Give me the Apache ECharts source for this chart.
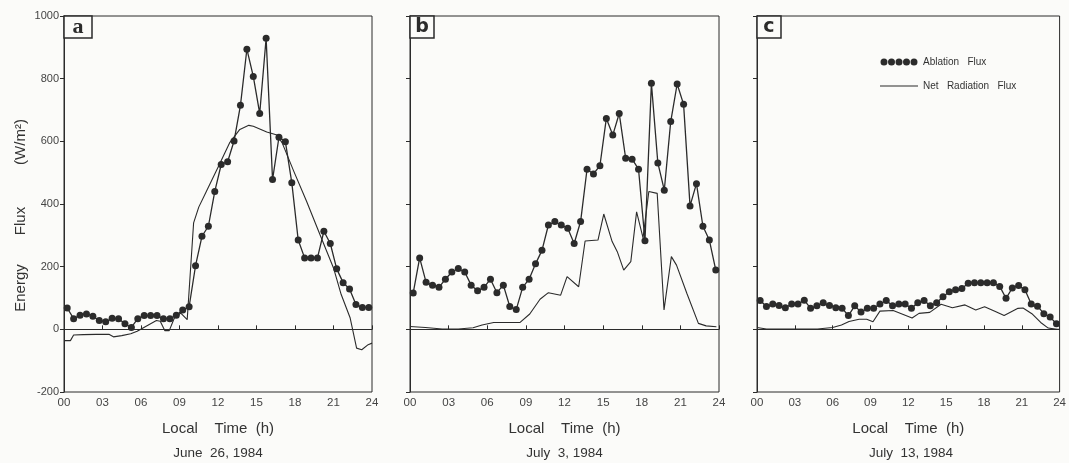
<!DOCTYPE html>
<html>
<head>
<meta charset="utf-8">
<script src="https://cdn.jsdelivr.net/npm/echarts@6/dist/echarts.min.js"></script>
<style>html,body{margin:0;padding:0;background:#fbfbf9;}#c{width:1069px;height:463px;}</style>
</head>
<body>
<div id="c"></div>
<script>
// ---- data ----
const hoursAbl = [0.25,0.75,1.25,1.75,2.25,2.75,3.25,3.75,4.25,4.75,5.25,5.75,6.25,6.75,7.25,7.75,8.25,8.75,9.25,9.75,10.25,10.75,11.25,11.75,12.25,12.75,13.25,13.75,14.25,14.75,15.25,15.75,16.25,16.75,17.25,17.75,18.25,18.75,19.25,19.75,20.25,20.75,21.25,21.75,22.25,22.75,23.25,23.75];
const xTicks = ['00','03','06','09','12','15','18','21','24'];
const panelLetters = ['a','b','c'];
const dates = ['June  26, 1984','July  3, 1984','July  13, 1984'];

const ablationA = [68,34,45,49,42,28,24,35,34,18,6,34,44,44,44,34,34,45,62,72,203,297,329,440,526,535,601,715,894,807,689,929,478,613,599,468,285,228,228,228,313,274,193,149,129,79,70,70];
const ablationB = [116,228,150,141,134,160,183,194,183,141,123,134,160,117,141,73,63,134,160,209,252,333,344,333,323,274,344,511,496,522,673,620,689,546,543,511,283,785,531,444,663,783,718,394,465,329,285,189];
const ablationC = [92,73,81,76,69,81,81,93,67,75,85,76,69,67,44,75,55,67,67,81,92,75,81,81,67,85,92,75,85,104,120,126,130,147,149,149,149,149,137,99,132,140,126,81,74,50,39,18];

const netTimeA = [0,0.5,0.75,1.5,2.5,3.5,3.85,4.5,5.2,5.7,6.4,7.2,7.5,7.85,8.2,8.6,9.1,9.6,10.1,10.5,11.1,12.05,12.9,13.7,14.4,14.75,15.8,16.6,17.0,17.9,18.9,19.95,21.0,21.6,22.3,22.8,23.2,23.7,24];
const netA = [-36,-36,-18,-17,-16,-16,-24,-20,-14,-6,10,28,26,-4,-4,36,52,31,340,390,441,521,595,638,651,648,630,620,595,505,409,302,196,111,36,-60,-65,-49,-44];
const netTimeB = [0,1.2,2.5,3.75,4.9,5.6,6.5,8.55,9.3,10.1,10.75,11.7,12.2,13.1,13.6,14.6,15.05,15.7,16.1,16.6,17.15,17.6,18.1,18.55,19.2,19.73,20.3,20.7,21.5,22.4,23.0,23.8];
const netB = [9,6,1,1,5,14,22,22,49,96,117,109,168,136,282,285,368,280,248,189,216,375,292,440,434,62,232,205,115,19,11,8];
const netTimeC = [0,0.75,4.8,6.0,6.7,7.3,8.1,8.7,9.2,9.75,10.8,11.55,12.3,12.85,13.7,14.6,15.5,16.5,17.35,18.05,18.95,19.6,20.7,21.1,21.8,22.5,23.1,23.8,24];
const netC = [6,1,1,6,14,25,32,32,24,58,60,48,36,51,54,80,69,78,62,72,56,44,67,68,50,22,4,0,0];

// ---- build chart ----
const ablations = [ablationA, ablationB, ablationC];
const netTimes = [netTimeA, netTimeB, netTimeC];
const nets = [netA, netB, netC];
const grids = [
  {left:64, top:16, width:308, height:376},
  {left:410, top:16, width:309, height:376},
  {left:757, top:16, width:308, height:376}
];
const ink = '#2b2b2b';
const sans = '"Liberation Sans", Arial, sans-serif';

const option = {
  backgroundColor: '#fbfbf9',
  animation: false,
  grid: grids.map(g => Object.assign({show:true, borderColor:ink, borderWidth:1, backgroundColor:'transparent'}, g)),
  xAxis: grids.map((g, i) => ({
    type:'value', gridIndex:i, min:0, max:24, interval:3,
    axisLine:{show:true, lineStyle:{color:ink, width:1}},
    axisTick:{show:true, inside:true, length:4, lineStyle:{color:ink}},
    splitLine:{show:false},
    axisLabel:{show:true, margin:5, fontSize:11.5, color:'#444', fontFamily:sans,
      formatter: v => xTicks[Math.round(v/3)], showMinLabel:true, showMaxLabel:true},
    name:'Local    Time  (h)', nameLocation:'middle', nameGap:29,
    nameTextStyle:{fontSize:15, color:'#333', fontFamily:sans}
  })),
  yAxis: grids.map((g, i) => ({
    type:'value', gridIndex:i, min:-200, max:1000, interval:200,
    axisLine:{show:true, lineStyle:{color:ink, width:1}},
    axisTick:{show:true, inside:false, length:4, lineStyle:{color:ink}},
    splitLine:{show:false},
    axisLabel:{show:i===0, margin:5, fontSize:11, color:'#444', fontFamily:sans,
      formatter: v => String(v)}
  })),
  legend: {
    left:880, top:57, orient:'vertical', itemGap:14, itemWidth:38, itemHeight:7, padding:0,
    textStyle:{fontSize:10, color:'#333', fontFamily:sans},
    formatter: n => n === 'Ablation Flux' ? 'Ablation   Flux' : 'Net   Radiation   Flux',
    data:[
      {name:'Ablation Flux', icon:'path://M0,3.5A3.5,3.5 0 1,1 7,3.5A3.5,3.5 0 1,1 0,3.5Z M7.5,3.5A3.5,3.5 0 1,1 14.5,3.5A3.5,3.5 0 1,1 7.5,3.5Z M15,3.5A3.5,3.5 0 1,1 22,3.5A3.5,3.5 0 1,1 15,3.5Z M22.5,3.5A3.5,3.5 0 1,1 29.5,3.5A3.5,3.5 0 1,1 22.5,3.5Z M30,3.5A3.5,3.5 0 1,1 37,3.5A3.5,3.5 0 1,1 30,3.5Z'},
      {name:'Net Radiation Flux', icon:'path://M0,3L38,3L38,4L0,4Z M0,0L0.01,0L0,0.01Z M38,7L37.99,7L38,6.99Z'}
    ]
  },
  series: [],
  graphic: []
};

for (let i = 0; i < 3; i++) {
  option.series.push({
    name:'Net Radiation Flux', type:'line', xAxisIndex:i, yAxisIndex:i,
    data: netTimes[i].map((t, k) => [t, nets[i][k]]),
    showSymbol:false, symbol:'none',
    lineStyle:{color:ink, width:1.1}, itemStyle:{color:ink},
    markLine:{silent:true, symbol:['none','none'], label:{show:false},
      lineStyle:{color:ink, width:1, type:'solid'}, data:[{yAxis:0}]}
  });
  option.series.push({
    name:'Ablation Flux', type:'line', xAxisIndex:i, yAxisIndex:i,
    data: hoursAbl.map((t, k) => [t, ablations[i][k]]),
    symbol:'circle', symbolSize:7,
    lineStyle:{color:ink, width:1.3}, itemStyle:{color:ink}
  });
  const g = grids[i];
  const bw = i === 0 ? 28 : 24;
  option.graphic.push({type:'rect', shape:{x:g.left, y:g.top, width:bw, height:22},
    style:{fill:'#fbfbf9', stroke:ink, lineWidth:1.5}, z:100});
  option.graphic.push({type:'text', x:g.left + bw/2, y:g.top + 11.5, z:101,
    style:{text:panelLetters[i], align:'center', verticalAlign:'middle', fill:ink,
      font: i === 0 ? 'bold 22px "Liberation Serif", serif' : 'bold 19px "DejaVu Sans", sans-serif'}});
  option.graphic.push({type:'text', x:g.left + g.width/2, y:453,
    style:{text:dates[i], align:'center', verticalAlign:'middle', fill:'#333',
      font:'13.5px "Liberation Sans", Arial, sans-serif'}});
}
// y axis title pieces
[['Energy',288],['Flux',221],['(W/m²)',142]].forEach(([t, y]) => {
  option.graphic.push({type:'text', x:21, y:y, rotation:Math.PI/2,
    style:{text:t, align:'center', verticalAlign:'middle', fill:'#333',
      font:'15px "Liberation Sans", Arial, sans-serif'}});
});

const chart = echarts.init(document.getElementById('c'), null, {renderer:'canvas'});
chart.setOption(option);
</script>
</body>
</html>
